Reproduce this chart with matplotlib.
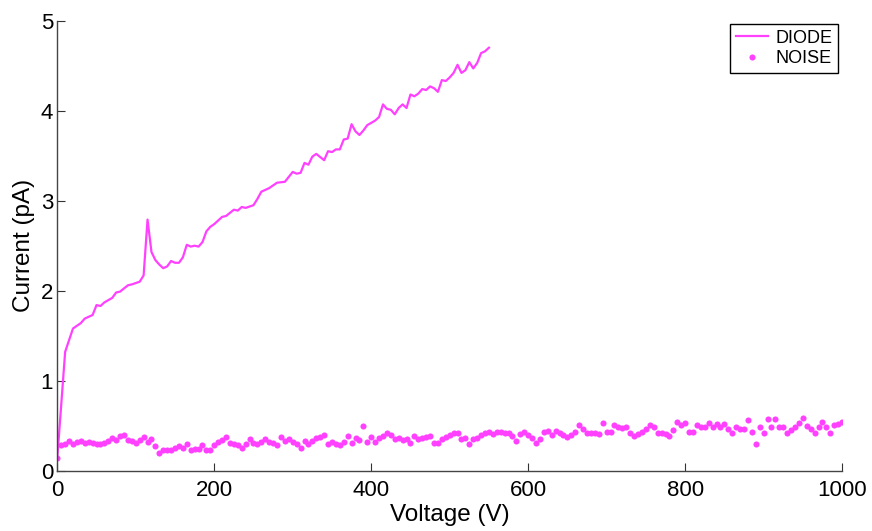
import numpy as np
import matplotlib
matplotlib.use("Agg")
import matplotlib.pyplot as plt

plt.rcParams["font.family"] = ["Liberation Sans", "DejaVu Sans"]

# diode sweep
diode_v = [0, 10, 15, 20, 30, 35, 45, 50, 55, 60, 70, 75, 80, 90, 95, 105, 110,
           115, 120, 125, 130, 135, 140, 145, 150, 155, 160, 165, 170, 175, 180,
           185, 190, 195, 200, 210, 215, 225, 230, 235, 240, 250, 255, 260, 270,
           280, 290, 300, 305, 310, 315, 320, 325, 330, 340, 345, 350, 355, 360,
           365, 370, 375, 380, 385, 390, 395, 405, 410, 415, 420, 425, 430, 435,
           440, 445, 450, 455, 460, 465, 470, 475, 480, 485, 490, 495, 500, 505,
           510, 515, 520, 525, 530, 535, 540, 545, 550]
diode_i = [0.14, 1.32, 1.45, 1.58, 1.64, 1.69, 1.73, 1.84, 1.83, 1.87, 1.92, 1.98,
           1.99, 2.06, 2.07, 2.10, 2.17, 2.79, 2.43, 2.34, 2.29, 2.25, 2.27, 2.33,
           2.31, 2.31, 2.37, 2.51, 2.49, 2.50, 2.49, 2.54, 2.66, 2.71, 2.74, 2.82,
           2.83, 2.90, 2.89, 2.93, 2.92, 2.95, 3.02, 3.10, 3.14, 3.20, 3.21, 3.32,
           3.30, 3.31, 3.42, 3.40, 3.49, 3.52, 3.45, 3.55, 3.54, 3.57, 3.57, 3.68,
           3.69, 3.85, 3.77, 3.73, 3.78, 3.84, 3.89, 3.93, 4.07, 4.02, 4.01, 3.96,
           4.03, 4.07, 4.03, 4.18, 4.16, 4.19, 4.24, 4.23, 4.27, 4.25, 4.21, 4.34,
           4.33, 4.37, 4.42, 4.51, 4.42, 4.45, 4.54, 4.47, 4.53, 4.64, 4.66, 4.70]

# noise sweep, 0..1000 V in 5 V steps
noise_v = list(range(0, 1001, 5))
noise_i = [0.14, 0.285, 0.30, 0.33, 0.30, 0.315, 0.33, 0.31, 0.32, 0.31,
           0.30, 0.30, 0.31, 0.33, 0.36, 0.34, 0.385, 0.40, 0.34, 0.33,
           0.31, 0.34, 0.37, 0.32, 0.35, 0.27, 0.20, 0.23, 0.23, 0.23,
           0.25, 0.27, 0.25, 0.30, 0.23, 0.24, 0.24, 0.285, 0.23, 0.23,
           0.29, 0.32, 0.34, 0.37, 0.31, 0.30, 0.285, 0.25, 0.30, 0.35,
           0.31, 0.30, 0.32, 0.35, 0.32, 0.31, 0.285, 0.37, 0.33, 0.35,
           0.32, 0.30, 0.25, 0.33, 0.30, 0.33, 0.36, 0.37, 0.40, 0.30,
           0.32, 0.30, 0.285, 0.32, 0.385, 0.31, 0.36, 0.34, 0.50, 0.32,
           0.378, 0.32, 0.36, 0.385, 0.415, 0.40, 0.35, 0.36, 0.34, 0.35,
           0.31, 0.389, 0.35, 0.36, 0.37, 0.385, 0.31, 0.31, 0.35, 0.378,
           0.397, 0.415, 0.42, 0.35, 0.36, 0.30, 0.35, 0.36, 0.40, 0.415,
           0.43, 0.407, 0.43, 0.43, 0.415, 0.415, 0.385, 0.334, 0.407, 0.43,
           0.397, 0.36, 0.31, 0.35, 0.43, 0.445, 0.397, 0.445, 0.42, 0.40,
           0.378, 0.397,
           0.43, 0.51, 0.46, 0.415, 0.415, 0.415, 0.41, 0.53, 0.43, 0.43,
           0.51, 0.49, 0.47, 0.49, 0.42, 0.38, 0.41, 0.43, 0.46, 0.51,
           0.49, 0.415, 0.42, 0.41, 0.385, 0.45, 0.545, 0.51, 0.53, 0.43,
           0.43, 0.51, 0.49, 0.49, 0.53, 0.49, 0.52, 0.48, 0.52, 0.46,
           0.415, 0.48, 0.46, 0.46, 0.56, 0.43, 0.30, 0.48, 0.42, 0.57,
           0.48, 0.57, 0.49, 0.49, 0.415, 0.45, 0.49, 0.53, 0.59, 0.50,
           0.46, 0.42, 0.49, 0.545, 0.49, 0.42, 0.51, 0.52, 0.545]

x_ticks = [0, 200, 400, 600, 800, 1000]
y_ticks = [0, 1, 2, 3, 4, 5]

col = "#ff40ff"

fig = plt.figure(figsize=(8.72, 5.31), dpi=100)
ax = fig.add_axes([0.0657, 0.1136, 0.9, 0.8474])

ax.plot(diode_v, diode_i, color=col, lw=1.6, label="DIODE")
ax.plot(noise_v, noise_i, ls="none", marker="o", ms=4.4, color=col,
        markeredgewidth=0, label="NOISE")

ax.set_xlim(0, 1000); ax.set_ylim(0, 5)
ax.set_xticks(x_ticks); ax.set_yticks(y_ticks)
for s in ("top", "right"):
    ax.spines[s].set_visible(False)
for s in ("left", "bottom"):
    ax.spines[s].set_color("#444444")
    ax.spines[s].set_linewidth(1.0)
ax.tick_params(direction="in", length=6, width=0.8, color="#333333",
               labelsize=16)
ax.tick_params(axis="x", pad=7)
ax.tick_params(axis="y", pad=3)
ax.set_xlabel("Voltage (V)", fontsize=17.5, labelpad=2)
ax.set_ylabel("Current (pA)", fontsize=17.5, labelpad=4)

leg = ax.legend(loc="upper right", bbox_to_anchor=(0.9945, 0.992), fontsize=13,
                fancybox=False, framealpha=1, edgecolor="black",
                handlelength=1.8, borderpad=0.3, labelspacing=0.2,
                handletextpad=0.4, borderaxespad=0)
leg.get_frame().set_linewidth(1.0)

fig.savefig("out.png", dpi=100)
